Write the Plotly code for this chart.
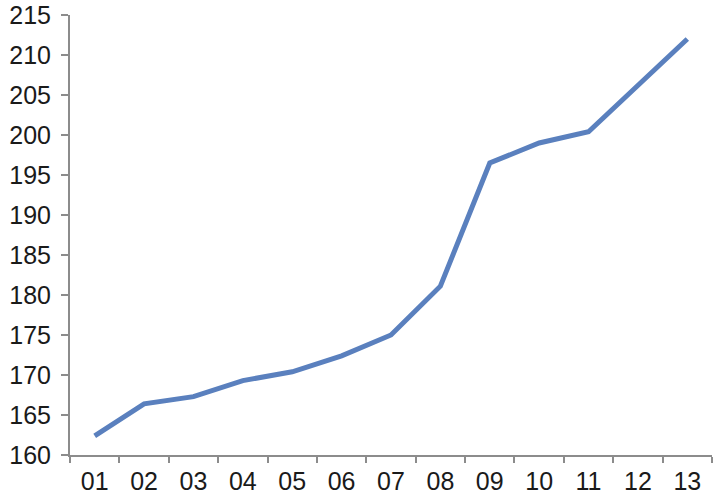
import plotly.graph_objects as go

categories = ["01", "02", "03", "04", "05", "06", "07", "08", "09", "10", "11", "12", "13"]
values = [162.4, 166.4, 167.3, 169.3, 170.4, 172.4, 175.0, 181.1, 196.5, 199.0, 200.4, 206.1, 212.0]
y_ticks = [160, 165, 170, 175, 180, 185, 190, 195, 200, 205, 210, 215]

fig = go.Figure()
fig.add_trace(go.Scatter(
    x=categories, y=values, mode="lines",
    line=dict(color="#5A80BE", width=5),
    hoverinfo="x+y",
))

axis_color = "#8c8c8c"
fig.update_layout(
    width=720, height=504,
    margin=dict(l=70, r=8, t=15, b=49),
    paper_bgcolor="white", plot_bgcolor="white",
    showlegend=False,
    font=dict(family="Liberation Sans, Arial, sans-serif", size=25, color="#1a1a1a"),
    xaxis=dict(
        type="category", range=[-0.5, 12.5], automargin=False,
        showline=True, linecolor=axis_color, linewidth=2,
        ticks="outside", ticklen=6, tickwidth=2, tickcolor=axis_color,
        tickson="boundaries", showgrid=False, zeroline=False,
        ticklabelstandoff=3,
    ),
    yaxis=dict(
        range=[160, 215], tickvals=y_ticks, automargin=False,
        showline=True, linecolor=axis_color, linewidth=2,
        ticks="outside", ticklen=7, tickwidth=2, tickcolor=axis_color,
        showgrid=False, zeroline=False,
        ticklabelstandoff=5, ticklabeloverflow="allow",
    ),
)

fig.write_html(
    "out.html",
    config={"displayModeBar": False},
    post_script="document.body.style.margin='0';",
)
